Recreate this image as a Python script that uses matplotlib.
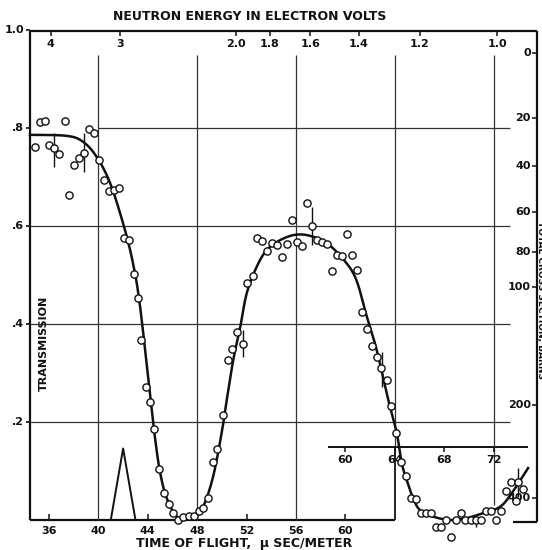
import numpy as np
import matplotlib
matplotlib.use("Agg")
import matplotlib.pyplot as plt

# ---------------- data ----------------
tof = [34.87, 35.27, 35.70, 37.30, 36.02, 36.43, 36.83, 37.64, 38.02, 38.45, 38.86, 39.24,
       39.64, 40.05, 40.48, 40.88, 41.29, 41.67, 42.07, 42.48, 42.88, 43.21, 43.45, 43.85,
       44.18, 44.48, 44.93, 45.31, 45.72, 46.04, 46.47, 46.87, 47.31, 47.72, 48.12, 48.47,
       48.87, 49.26, 49.63, 50.11, 50.47, 50.84, 51.25, 51.68, 52.06, 52.49, 52.87, 53.25,
       53.68, 54.08, 54.49, 54.89, 55.27, 55.70, 56.08, 56.51, 56.91, 57.30, 57.70, 58.08,
       58.49, 58.91, 59.32, 59.75, 60.11, 60.53, 60.94, 61.32, 61.77, 62.15, 62.53, 62.91,
       63.34, 63.67, 64.12, 64.50, 64.91, 65.31, 65.74, 66.10, 66.53, 66.93, 67.31, 67.77,
       68.15, 68.55, 68.96, 69.36, 69.71, 70.15, 70.55, 70.98, 71.36, 71.77, 72.17, 72.57,
       73.00, 73.41, 73.79, 74.00, 74.38]
trans = [0.761, 0.812, 0.815, 0.815, 0.765, 0.759, 0.747, 0.663, 0.724, 0.739, 0.748, 0.797,
         0.790, 0.734, 0.693, 0.671, 0.673, 0.678, 0.575, 0.571, 0.503, 0.453, 0.367, 0.271,
         0.241, 0.186, 0.104, 0.056, 0.033, 0.014, 0.000, 0.007, 0.008, 0.009, 0.018, 0.025,
         0.044, 0.118, 0.145, 0.215, 0.327, 0.350, 0.383, 0.359, 0.484, 0.497, 0.576, 0.570,
         0.549, 0.565, 0.562, 0.536, 0.563, 0.613, 0.567, 0.560, 0.646, 0.600, 0.571, 0.567,
         0.563, 0.509, 0.541, 0.539, 0.584, 0.541, 0.510, 0.424, 0.390, 0.355, 0.333, 0.310,
         0.286, 0.233, 0.177, 0.119, 0.089, 0.045, 0.043, 0.014, 0.014, 0.014, -0.015, -0.015,
         -0.001, -0.035, -0.001, 0.015, -0.001, -0.001, -0.001, -0.001, 0.018, 0.018, -0.001, 0.018,
         0.059, 0.078, 0.039, 0.078, 0.064]

err_t = [36.43, 38.86, 51.68, 57.30, 62.98, 70.55, 74.00]
err_lo = [0.720, 0.710, 0.333, 0.561, 0.272, -0.014, 0.047]
err_hi = [0.790, 0.790, 0.388, 0.639, 0.343, 0.010, 0.106]

curve_t = [34.46, 37.43, 38.75, 39.86, 40.94, 41.99, 42.75, 43.35, 44.23, 44.50, 44.91, 45.39,
           46.04, 46.61, 47.66, 48.47, 49.28, 49.98, 50.39, 50.92, 51.47, 52.01, 52.82, 53.63,
           54.70, 55.92, 57.13, 58.49, 59.83, 60.85, 61.72, 62.53, 63.47, 64.15, 64.56, 64.96,
           65.47, 66.04, 67.09, 68.47, 69.82, 71.14, 72.52, 73.47, 74.79]
curve_T = [0.786, 0.784, 0.772, 0.741, 0.688, 0.606, 0.530, 0.440, 0.245, 0.184, 0.109, 0.055,
           0.017, 0.004, 0.004, 0.027, 0.088, 0.178, 0.245, 0.327, 0.392, 0.463, 0.517, 0.551,
           0.571, 0.582, 0.580, 0.565, 0.532, 0.492, 0.416, 0.347, 0.245, 0.178, 0.116, 0.082,
           0.045, 0.020, 0.007, 0.000, 0.004, 0.014, 0.027, 0.055, 0.106]

resol_t = [41.0, 42.0, 43.0]
resol_T = [0.0, 0.146, 0.0]

time_ticks = [36, 40, 44, 48, 52, 56, 60]
inset_ticks = [60, 64, 68, 72]
trans_ticks = [0.2, 0.4, 0.6, 0.8, 1.0]
trans_labels = [".2", ".4", ".6", ".8", "1.0"]
energy_ticks = [4, 3, 2.0, 1.8, 1.6, 1.4, 1.2, 1.0]
energy_labels = ["4", "3", "2.0", "1.8", "1.6", "1.4", "1.2", "1.0"]
sigma_ticks = [0, 20, 40, 60, 80, 100, 200, 400]
sigma_T = [0.953, 0.820, 0.722, 0.628, 0.547, 0.476, 0.235, 0.045]

# ---------------- figure ----------------
W, H = 542, 550
fig = plt.figure(figsize=(W / 100, H / 100), dpi=100)
ax = fig.add_axes([30 / W, 30 / H, 507 / W, 489 / H])
X0, X1 = 34.46, 75.51
Y0, Y1 = 0.0, 489 / 490
ax.set_xlim(X0, X1)
ax.set_ylim(Y0, Y1)
ax.axis("off")

k = "#111111"
g = "#333333"
fk = dict(family="DejaVu Sans", fontweight="bold", color=k)
px = (X1 - X0) / 507.0      # data per pixel x
py = (Y1 - Y0) / 489.0      # data per pixel y


def line(xs, ys, lw=1.3, c=k):
    ax.plot(xs, ys, color=c, lw=lw, clip_on=False, solid_capstyle="butt")


def smooth(xs, ys, n=12):
    """Catmull-Rom rendering through the given curve points."""
    P = np.column_stack([np.asarray(xs) / px, np.asarray(ys) / py])
    P = np.vstack([P[0], P, P[-1]])
    out = []
    s = np.linspace(0, 1, n, endpoint=False)[:, None]
    for i in range(1, len(P) - 2):
        p0, p1, p2, p3 = P[i - 1], P[i], P[i + 1], P[i + 2]
        seg = 0.5 * ((2 * p1) + (-p0 + p2) * s + (2 * p0 - 5 * p1 + 4 * p2 - p3) * s ** 2
                     + (-p0 + 3 * p1 - 3 * p2 + p3) * s ** 3)
        out.append(seg)
    out.append(P[-2][None, :])
    out = np.vstack(out)
    return out[:, 0] * px, out[:, 1] * py


# frame
line([X0, X0], [0, Y1], 1.6)
line([X0, X1], [Y1, Y1], 1.6)
line([X1, X1], [Y1, -0.004], 1.6)
line([73.57, X1], [-0.004, -0.004], 1.6)
line([X0, 64.02], [0, 0], 1.6)
line([64.02, 64.02], [0, 0.149], 1.3)
line([58.6, 74.8], [0.149, 0.149], 1.4)

# grid
for t in [40, 48, 56]:
    line([t, t], [0, 0.949], 0.9, g)
line([64.02, 64.02], [0.149, 0.949], 0.9, g)
line([72, 72], [0.03, 0.949], 0.9, g)
line([40, 73.3], [0.8, 0.8], 0.9, g)
for v in [0.6, 0.4, 0.2]:
    line([X0, 73.3], [v, v], 0.9, g)

# left ticks
for v, lab in zip(trans_ticks, trans_labels):
    line([X0 - 4 * px, X0], [v, v], 1.2)
    ax.text(X0 - 6 * px, v, lab, ha="right", va="center", fontsize=8, **fk)

# bottom ticks
for t in time_ticks:
    if t not in (40, 48, 56):
        line([t, t], [0, 6 * py], 1.1)
    ax.text(t, -6 * py, str(t), ha="center", va="top", fontsize=8, **fk)

# inset ticks
for t in inset_ticks:
    line([t, t], [0.149, 0.149 - 5 * py], 1.1)
    ax.text(t, 0.149 - 8 * py, str(t), ha="center", va="top", fontsize=8, **fk)

# energy ticks
for e, lab in zip(energy_ticks, energy_labels):
    t = 72.3 / np.sqrt(e)
    line([t, t], [Y1, Y1 - 5 * py], 1.1)
    ax.text(t, Y1 - 8 * py, lab, ha="center", va="top", fontsize=8, **fk)

# cross-section ticks
for s, v in zip(sigma_ticks, sigma_T):
    line([X1 - 5 * px, X1], [v, v], 1.1)
    ax.text(X1 - 6 * px, v, str(s), ha="right", va="center", fontsize=8, **fk)

# curve, resolution triangle
cx, cy = smooth(curve_t, curve_T)
ax.plot(cx, cy, color=k, lw=1.8, clip_on=False)
line(resol_t, resol_T, 1.4)

# error bars
for t, lo, hi in zip(err_t, err_lo, err_hi):
    line([t, t], [lo, hi], 1.0)

# data points
ax.plot(tof, trans, "o", ms=5.2, mfc="white", mec=k, mew=1.0, clip_on=False, zorder=5)

# labels
fig.text(250 / W, 1 - 16 / H, "NEUTRON ENERGY IN ELECTRON VOLTS", ha="center", va="center",
         fontsize=9, **fk)
fig.text(244 / W, 1 - 543 / H, "TIME OF FLIGHT,  \u03bc SEC/METER", ha="center", va="center",
         fontsize=9, **fk)
fig.text(44 / W, 1 - 343 / H, "TRANSMISSION", ha="center", va="center", rotation=90,
         fontsize=8, **fk)
fig.text(540.5 / W, 1 - 300 / H, "TOTAL CROSS SECTION, BARNS", ha="center", va="center",
         rotation=270, fontsize=6.5, **fk)

fig.savefig("out.png", dpi=100, facecolor="white")
